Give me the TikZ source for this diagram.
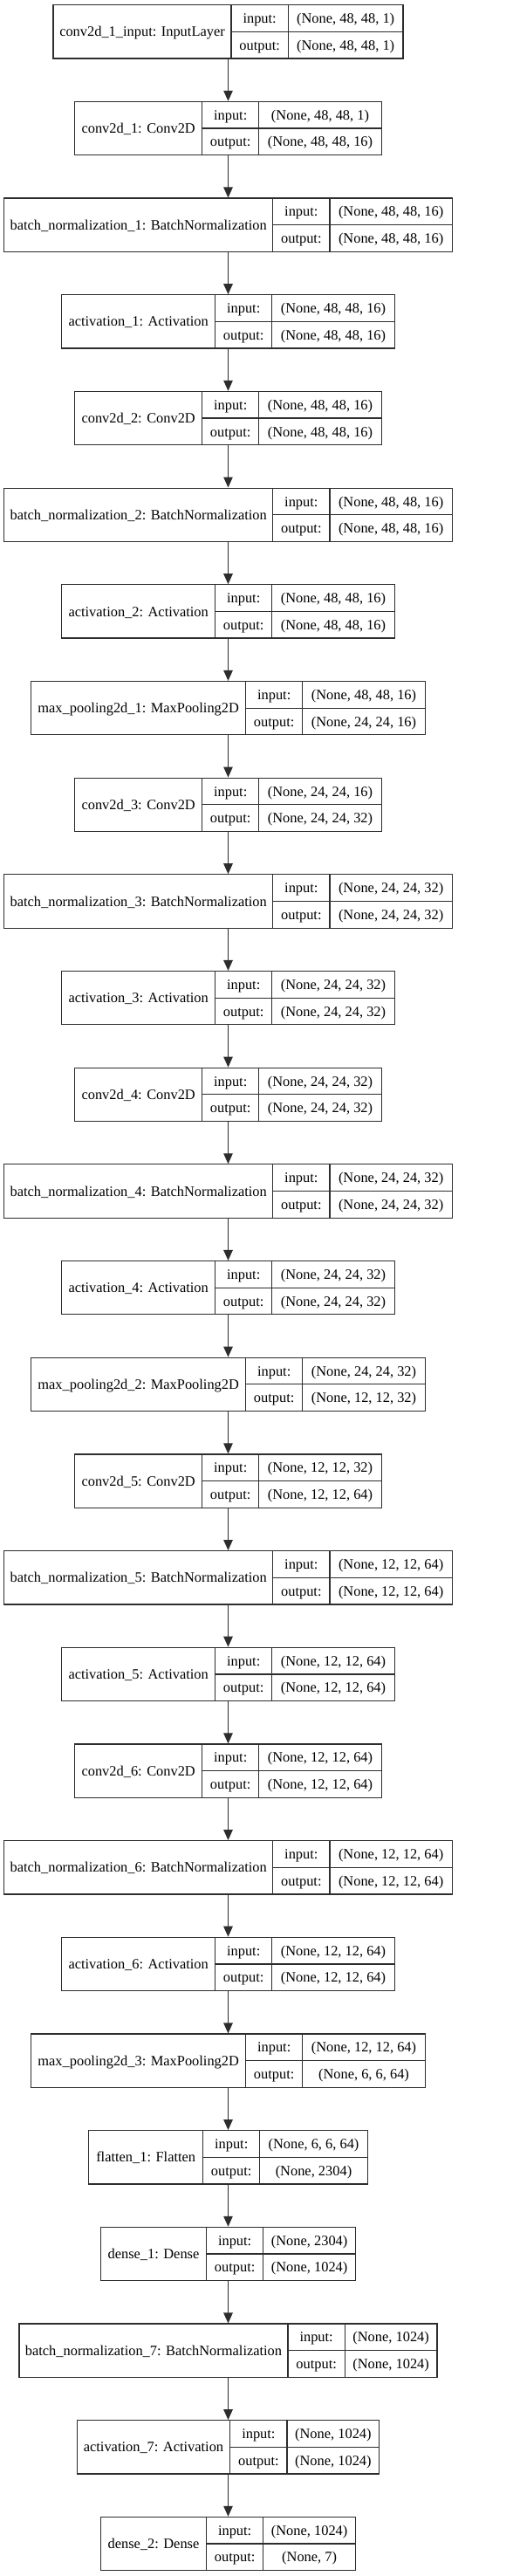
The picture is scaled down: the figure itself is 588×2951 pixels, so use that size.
\documentclass[tikz,border=0pt]{standalone}
\usepackage{fontspec}
\setmainfont{Liberation Serif}
\usetikzlibrary{arrows.meta}
\definecolor{linec}{RGB}{45,45,45}
\tikzset{
  layerbox/.style={draw=linec, line width=1.2pt, minimum height=61.3pt, inner sep=0pt},
  divider/.style={draw=linec, line width=1.2pt},
  txt/.style={anchor=base, inner sep=0pt, font=\fontsize{16.4}{18}\selectfont, text=black},
  flow/.style={draw=linec, line width=1.2pt, -{Triangle[length=12pt,width=10.5pt]}},
}
\newcommand\klayer[7]{%
  \pgfmathsetmacro\cy{-(36.35+#1*110.68)}%
  \pgfmathsetmacro\W{#4+65.3+#5}%
  \pgfmathsetmacro\xl{261.5-\W/2}%
  \pgfmathsetmacro\xa{\xl+#4}%
  \pgfmathsetmacro\xb{\xa+65.3}%
  \pgfmathsetmacro\xr{\xb+#5}%
  \pgfmathsetmacro\yt{\cy+30.65}%
  \pgfmathsetmacro\yb{\cy-30.65}%
  \pgfmathsetmacro\lx{\xl+#4/2}%
  \pgfmathsetmacro\mx{\xa+32.65}%
  \pgfmathsetmacro\sx{\xb+#5/2}%
  \pgfmathsetmacro\lby{\cy-5.6}%
  \pgfmathsetmacro\tby{\cy+15.33-5.6}%
  \pgfmathsetmacro\bby{\cy-15.33-5.6}%
  \node[layerbox, minimum width=\W pt] (#2) at (261.5pt,\cy pt) {};
  \draw[divider] (\xa pt,\yt pt) -- (\xa pt,\yb pt);
  \draw[divider] (\xb pt,\yt pt) -- (\xb pt,\yb pt);
  \draw[divider] (\xa pt,\cy pt) -- (\xr pt,\cy pt);
  \node[txt] (#2-l) at (\lx pt,\lby pt) {#3};
  \node[txt] (#2-i) at (\mx pt,\tby pt) {input:};
  \node[txt] (#2-o) at (\mx pt,\bby pt) {output:};
  \node[txt] (#2-is) at (\sx pt,\tby pt) {#6};
  \node[txt] (#2-os) at (\sx pt,\bby pt) {#7};
}
\begin{document}
\begin{tikzpicture}[x=1pt,y=1pt]
\fill[white] (0,0) rectangle (588,-2951);
\useasboundingbox (0,0) rectangle (588,-2951);
\def\Sa{140.3}
\klayer{0}{b0}{conv2d\_1\_input: InputLayer}{204}{131.7}{(None, 48, 48, 1)}{(None, 48, 48, 1)}
\klayer{1}{b1}{conv2d\_1: Conv2D}{145.7}{\Sa}{(None, 48, 48, 1)}{(None, 48, 48, 16)}
\klayer{2}{b2}{batch\_normalization\_1: BatchNormalization}{308}{\Sa}{(None, 48, 48, 16)}{(None, 48, 48, 16)}
\klayer{3}{b3}{activation\_1: Activation}{175.7}{\Sa}{(None, 48, 48, 16)}{(None, 48, 48, 16)}
\klayer{4}{b4}{conv2d\_2: Conv2D}{145.7}{\Sa}{(None, 48, 48, 16)}{(None, 48, 48, 16)}
\klayer{5}{b5}{batch\_normalization\_2: BatchNormalization}{308}{\Sa}{(None, 48, 48, 16)}{(None, 48, 48, 16)}
\klayer{6}{b6}{activation\_2: Activation}{175.7}{\Sa}{(None, 48, 48, 16)}{(None, 48, 48, 16)}
\klayer{7}{b7}{max\_pooling2d\_1: MaxPooling2D}{245.7}{\Sa}{(None, 48, 48, 16)}{(None, 24, 24, 16)}
\klayer{8}{b8}{conv2d\_3: Conv2D}{145.7}{\Sa}{(None, 24, 24, 16)}{(None, 24, 24, 32)}
\klayer{9}{b9}{batch\_normalization\_3: BatchNormalization}{308}{\Sa}{(None, 24, 24, 32)}{(None, 24, 24, 32)}
\klayer{10}{b10}{activation\_3: Activation}{175.7}{\Sa}{(None, 24, 24, 32)}{(None, 24, 24, 32)}
\klayer{11}{b11}{conv2d\_4: Conv2D}{145.7}{\Sa}{(None, 24, 24, 32)}{(None, 24, 24, 32)}
\klayer{12}{b12}{batch\_normalization\_4: BatchNormalization}{308}{\Sa}{(None, 24, 24, 32)}{(None, 24, 24, 32)}
\klayer{13}{b13}{activation\_4: Activation}{175.7}{\Sa}{(None, 24, 24, 32)}{(None, 24, 24, 32)}
\klayer{14}{b14}{max\_pooling2d\_2: MaxPooling2D}{245.7}{\Sa}{(None, 24, 24, 32)}{(None, 12, 12, 32)}
\klayer{15}{b15}{conv2d\_5: Conv2D}{145.7}{\Sa}{(None, 12, 12, 32)}{(None, 12, 12, 64)}
\klayer{16}{b16}{batch\_normalization\_5: BatchNormalization}{308}{\Sa}{(None, 12, 12, 64)}{(None, 12, 12, 64)}
\klayer{17}{b17}{activation\_5: Activation}{175.7}{\Sa}{(None, 12, 12, 64)}{(None, 12, 12, 64)}
\klayer{18}{b18}{conv2d\_6: Conv2D}{145.7}{\Sa}{(None, 12, 12, 64)}{(None, 12, 12, 64)}
\klayer{19}{b19}{batch\_normalization\_6: BatchNormalization}{308}{\Sa}{(None, 12, 12, 64)}{(None, 12, 12, 64)}
\klayer{20}{b20}{activation\_6: Activation}{175.7}{\Sa}{(None, 12, 12, 64)}{(None, 12, 12, 64)}
\klayer{21}{b21}{max\_pooling2d\_3: MaxPooling2D}{245.7}{\Sa}{(None, 12, 12, 64)}{(None, 6, 6, 64)}
\klayer{22}{b22}{flatten\_1: Flatten}{130.7}{123.3}{(None, 6, 6, 64)}{(None, 2304)}
\klayer{23}{b23}{dense\_1: Dense}{121}{105.7}{(None, 2304)}{(None, 1024)}
\klayer{24}{b24}{batch\_normalization\_7: BatchNormalization}{308}{105.7}{(None, 1024)}{(None, 1024)}
\klayer{25}{b25}{activation\_7: Activation}{175.5}{105.7}{(None, 1024)}{(None, 1024)}
\klayer{26}{b26}{dense\_2: Dense}{121}{105.7}{(None, 1024)}{(None, 7)}
\foreach \i [evaluate=\i as \j using int(\i+1)] in {0,...,25} {
  \draw[flow] (b\i.south) -- (b\j.north);
}
\end{tikzpicture}
\end{document}
